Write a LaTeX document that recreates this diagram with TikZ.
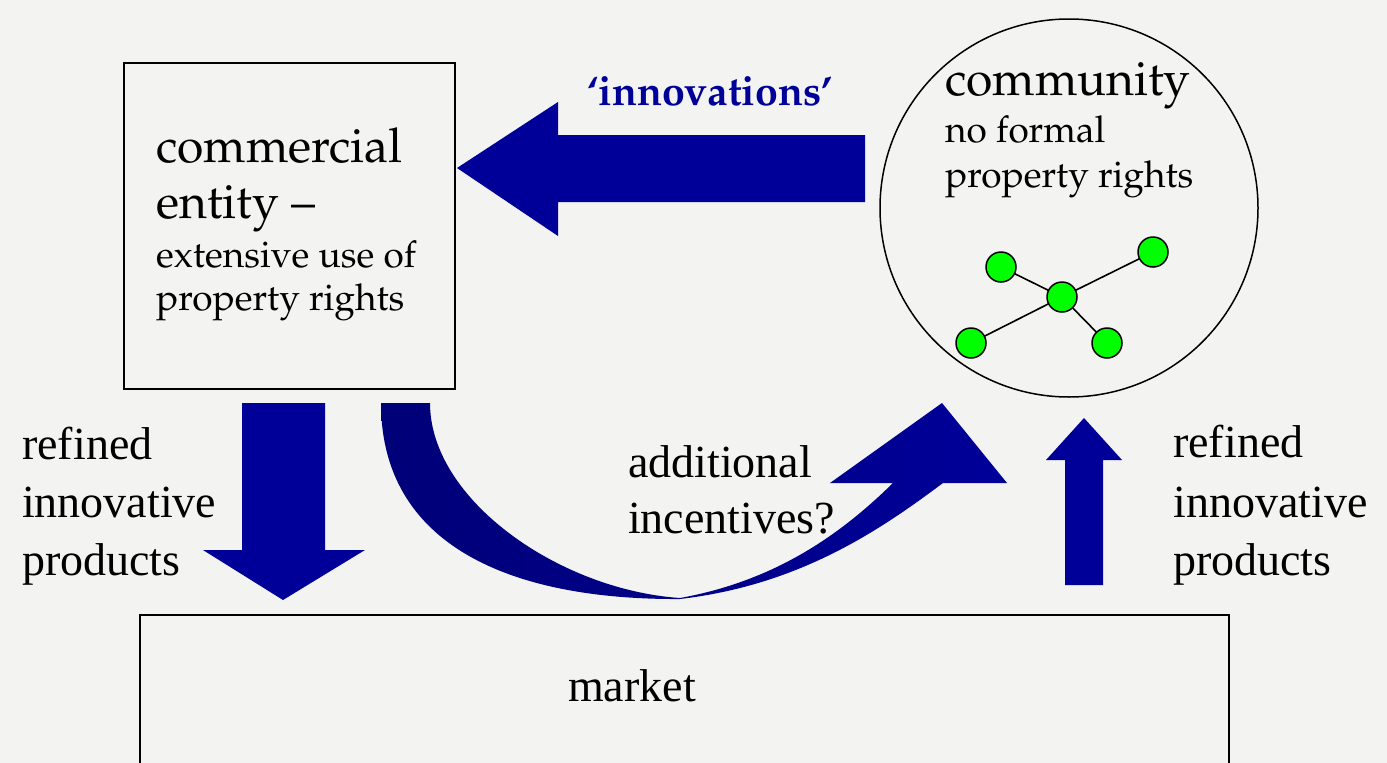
\documentclass[tikz,border=0pt]{standalone}
\usepackage[T1]{fontenc}
\usepackage{fontspec}
\setmainfont{Liberation Serif}
\definecolor{bg}{RGB}{243,243,242}
\definecolor{arrowblue}{RGB}{0,0,153}
\definecolor{arrownavy}{RGB}{0,0,120}
\definecolor{membergreen}{RGB}{0,255,0}
% Palatino (Type 1) for the entity and community texts
\newcommand\palsize[2]{\fontencoding{T1}\fontfamily{ppl}\fontsize{#1}{#2}\selectfont}
\begin{document}
\begin{tikzpicture}[x=1pt,y=-1pt,
  box/.style={draw=black, line width=1.5pt, inner sep=0, anchor=north west},
  serif/.style={inner sep=0, anchor=base west, font=\fontsize{46}{58}\selectfont},
  bigpal/.style={inner sep=0, anchor=base west, font=\palsize{48}{56}},
  smallpal/.style={inner sep=0, anchor=base west, font=\palsize{37}{44}},
  member/.style={circle, draw=black, fill=membergreen, line width=1.5pt, minimum size=30pt, inner sep=0},
  link/.style={draw=black, line width=1.6pt},
  blockarrow/.style={fill=arrowblue}]
\useasboundingbox (0,0) rectangle (1387,763);
\fill[bg] (0,0) rectangle (1387,763);

% commercial entity
\node[box, minimum width=331pt, minimum height=326pt] (entity) at (123,62) {};
\node[bigpal] (ent1) at (156,162) {commercial};
\node[bigpal] (ent2) at (156,218) {entity --};
\node[smallpal] (ent3) at (156,267) {extensive use of};
\node[smallpal] (ent4) at (156,310) {property rights};

% community
\node[circle, draw=black, line width=1.5pt, minimum size=378pt, inner sep=0] (community) at (1069,208) {};
\node[bigpal] (com1) at (945,95) {community};
\node[smallpal] (com2) at (945,142) {no formal};
\node[smallpal] (com3) at (945,187) {property rights};

% small network of members
\draw[link] (1062,297) -- (1001,267) (1062,297) -- (1153,252)
  (1062,297) -- (971,343) (1062,297) -- (1107,343);
\node[member] (hub) at (1062,297) {};
\node[member] (m1) at (1001,267) {};
\node[member] (m2) at (1153,252) {};
\node[member] (m3) at (971,343) {};
\node[member] (m4) at (1107,343) {};

% market
\node[box, minimum width=1089pt, minimum height=200pt] (market) at (139,614) {};
\node[serif, anchor=base] (marketlbl) at (632,701) {market};

% 'innovations' arrow from community to entity
\fill[blockarrow] (865,135) -- (558,135) -- (558,102) -- (457,168)
  -- (558,236) -- (558,202) -- (865,202) -- cycle;
\node[inner sep=0, anchor=base, text=arrowblue, font=\palsize{41}{48}\bfseries] (innov) at (710,105) {`innovations'};

% entity to market
\fill[blockarrow] (242,403) -- (325,403) -- (325,550) -- (365,550)
  -- (283,600) -- (203,550) -- (242,550) -- cycle;
\node[serif] (l1) at (22,459) {refined};
\node[serif] (l2) at (22,517) {innovative};
\node[serif] (l3) at (22,575) {products};

% market to community
\fill[blockarrow] (1065,585) -- (1103,585) -- (1103,460) -- (1122,460)
  -- (1084,418) -- (1046,460) -- (1065,460) -- cycle;
\node[serif] (r1) at (1173,457) {refined};
\node[serif] (r2) at (1173,517) {innovative};
\node[serif] (r3) at (1173,575) {products};

% curved arrow from entity round to community
\shade[left color=arrownavy, right color=arrowblue]
  (381,403) .. controls (381,545) and (510,600) .. (680,599)
  .. controls (800,585) and (880,530) .. (943,483)
  -- (1007,483) -- (942,403) -- (830,483) -- (893,483)
  .. controls (845,530) and (780,580) .. (680,598)
  .. controls (560,590) and (430,500) .. (430,403) -- cycle;
\node[serif] (inc1) at (628,477) {additional};
\node[serif] (inc2) at (628,533) {incentives?};
\end{tikzpicture}
\end{document}
